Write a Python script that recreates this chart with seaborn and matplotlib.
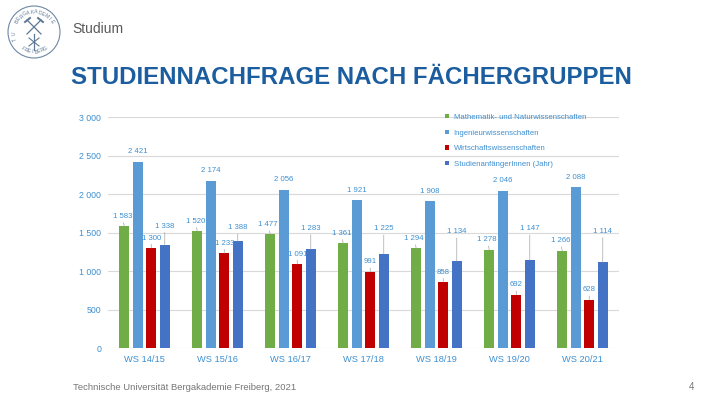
import numpy as np
import pandas as pd
import matplotlib
matplotlib.use("Agg")
import matplotlib.pyplot as plt
import seaborn as sns
from matplotlib.patches import Circle

# ---------------- data ----------------
semesters = ["WS 14/15", "WS 15/16", "WS 16/17", "WS 17/18", "WS 18/19", "WS 19/20", "WS 20/21"]
groups = ["Mathematik- und Naturwissenschaften", "Ingenieurwissenschaften",
          "Wirtschaftswissenschaften", "StudienanfängerInnen (Jahr)"]
mathnat = [1583, 1520, 1477, 1361, 1294, 1278, 1266]
ingenieur = [2421, 2174, 2056, 1921, 1908, 2046, 2088]
wirtschaft = [1300, 1233, 1091, 991, 858, 692, 628]
anfaenger = [1338, 1388, 1283, 1225, 1134, 1147, 1114]
y_ticks = [0, 500, 1000, 1500, 2000, 2500, 3000]
y_tick_labels = ["0", "500", "1 000", "1 500", "2 000", "2 500", "3 000"]

series = [mathnat, ingenieur, wirtschaft, anfaenger]
df = pd.DataFrame({
    "Semester": semesters * 4,
    "Gruppe": [g for g in groups for _ in semesters],
    "Wert": [v for s in series for v in s],
})

# ---------------- styles ----------------
colors = ["#70ad47", "#5b9bd5", "#c00000", "#4472c4"]
blue_txt = "#3d8fd1"
title_col = "#1b5d9e"
gray_txt = "#767676"
grid_col = "#d9d9d9"
px = 0.72  # pixel -> points at dpi 100

plt.rcParams["font.family"] = ["Liberation Sans", "DejaVu Sans"]

fig = plt.figure(figsize=(7.2, 4.05), dpi=100)
fig.patch.set_facecolor("white")

# overlay in pixel coordinates for header / footer / logo
bg = fig.add_axes([0, 0, 1, 1])
bg.set_xlim(0, 720)
bg.set_ylim(405, 0)
bg.axis("off")

# logo
cx, cy, r = 34, 32, 26
logo_col = "#5d7894"
bg.add_patch(Circle((cx, cy), r, fill=False, ec="#6d87a3", lw=0.8))
top_txt = "BERGAKADEMIE"
angs = np.linspace(150, 30, len(top_txt))
for ch, a in zip(top_txt, angs):
    t = np.deg2rad(a)
    bg.text(cx + 20 * np.cos(t), cy - 20 * np.sin(t), ch, fontsize=3.6, color=logo_col,
            rotation=a - 90, ha="center", va="center")
bot_txt = "FREIBERG"
angs = np.linspace(235, 305, len(bot_txt))
for ch, a in zip(bot_txt, angs):
    t = np.deg2rad(a)
    bg.text(cx + 20 * np.cos(t), cy - 20 * np.sin(t), ch, fontsize=3.6, color=logo_col,
            rotation=a + 90, ha="center", va="center")
for ch, a in zip("TU", [200, 185]):
    t = np.deg2rad(a)
    bg.text(cx + 20 * np.cos(t), cy - 20 * np.sin(t), ch, fontsize=3.6, color=logo_col,
            rotation=a - 90, ha="center", va="center")
# crossed hammers
bg.plot([cx - 7, cx + 7], [cy - 12, cy + 2], color=logo_col, lw=0.9)
bg.plot([cx + 7, cx - 7], [cy - 12, cy + 2], color=logo_col, lw=0.9)
bg.plot([cx - 9, cx - 4], [cy - 10, cy - 14], color=logo_col, lw=1.4)
bg.plot([cx + 9, cx + 4], [cy - 10, cy - 14], color=logo_col, lw=1.4)
bg.plot([cx, cx], [cy + 2, cy + 18], color=logo_col, lw=0.9)
bg.plot([cx - 5, cx + 5], [cy + 6, cy + 14], color=logo_col, lw=0.8)
bg.plot([cx + 5, cx - 5], [cy + 6, cy + 14], color=logo_col, lw=0.8)

bg.text(72, 29, "Studium", fontsize=10, color="#5a5a5a", ha="left", va="center")
bg.text(71, 84, "STUDIENNACHFRAGE NACH FÄCHERGRUPPEN", fontsize=17.3, fontweight="bold",
        color=title_col, ha="left", va="baseline")
bg.text(73, 387, "Technische Universität Bergakademie Freiberg, 2021", fontsize=6.8,
        color=gray_txt, ha="left", va="center")
bg.text(694, 387, "4", fontsize=7, color=gray_txt, ha="right", va="center")

# ---------------- chart ----------------
ax = fig.add_axes([108 / 720, 1 - 348 / 405, (619 - 108) / 720, (348 - 117.3) / 405])
ax.set_facecolor("none")
sns.barplot(data=df, x="Semester", y="Wert", hue="Gruppe", hue_order=groups,
            order=semesters, palette=colors, saturation=1, width=0.74, gap=0.27,
            ax=ax, errorbar=None)

ax.set_ylim(0, 3000)
ax.set_yticks(y_ticks)
ax.set_yticklabels(y_tick_labels)
ax.set_xlabel("")
ax.set_ylabel("")
for s in ax.spines.values():
    s.set_visible(False)
ax.yaxis.grid(True, color=grid_col, lw=0.8)
ax.set_axisbelow(True)
ax.tick_params(axis="both", length=0)
ax.tick_params(axis="y", labelsize=6.3, labelcolor=blue_txt, pad=5)
ax.tick_params(axis="x", labelsize=6.7, labelcolor=blue_txt, pad=5)

# data labels
blue_dy = [19, 13.5, 21, 25, 29, 31, 31]
for k, cont in enumerate(ax.containers):
    vals = series[k]
    for j, bar in enumerate(cont):
        x = bar.get_x() + bar.get_width() / 2
        v = vals[j]
        txt = f"{v:,}".replace(",", " ")
        if k == 3:
            dx, dy = 0, blue_dy[j]
        elif k == 0:
            dx, dy = -2, 10
        else:
            dx, dy = 0, 10
        arrow = None
        if k != 1:
            arrow = dict(arrowstyle="-", color="#a6a6a6", lw=0.5, shrinkA=0, shrinkB=0)
        ax.annotate(txt, (x, v), xytext=(dx * px, dy * px), textcoords="offset points",
                    ha="center", va="center", fontsize=5.6, color=blue_txt,
                    arrowprops=arrow)

# legend
handles, labels = ax.get_legend_handles_labels()
ax.legend(handles, labels, loc="upper left", bbox_to_anchor=(445 / 720, 1 - 114 / 405),
          bbox_transform=fig.transFigure, frameon=False, fontsize=5.6, labelcolor=blue_txt,
          handlelength=0.5, handleheight=0.5, handletextpad=0.6, labelspacing=1.1,
          borderaxespad=0, borderpad=0)

fig.savefig("out.png", dpi=100)
